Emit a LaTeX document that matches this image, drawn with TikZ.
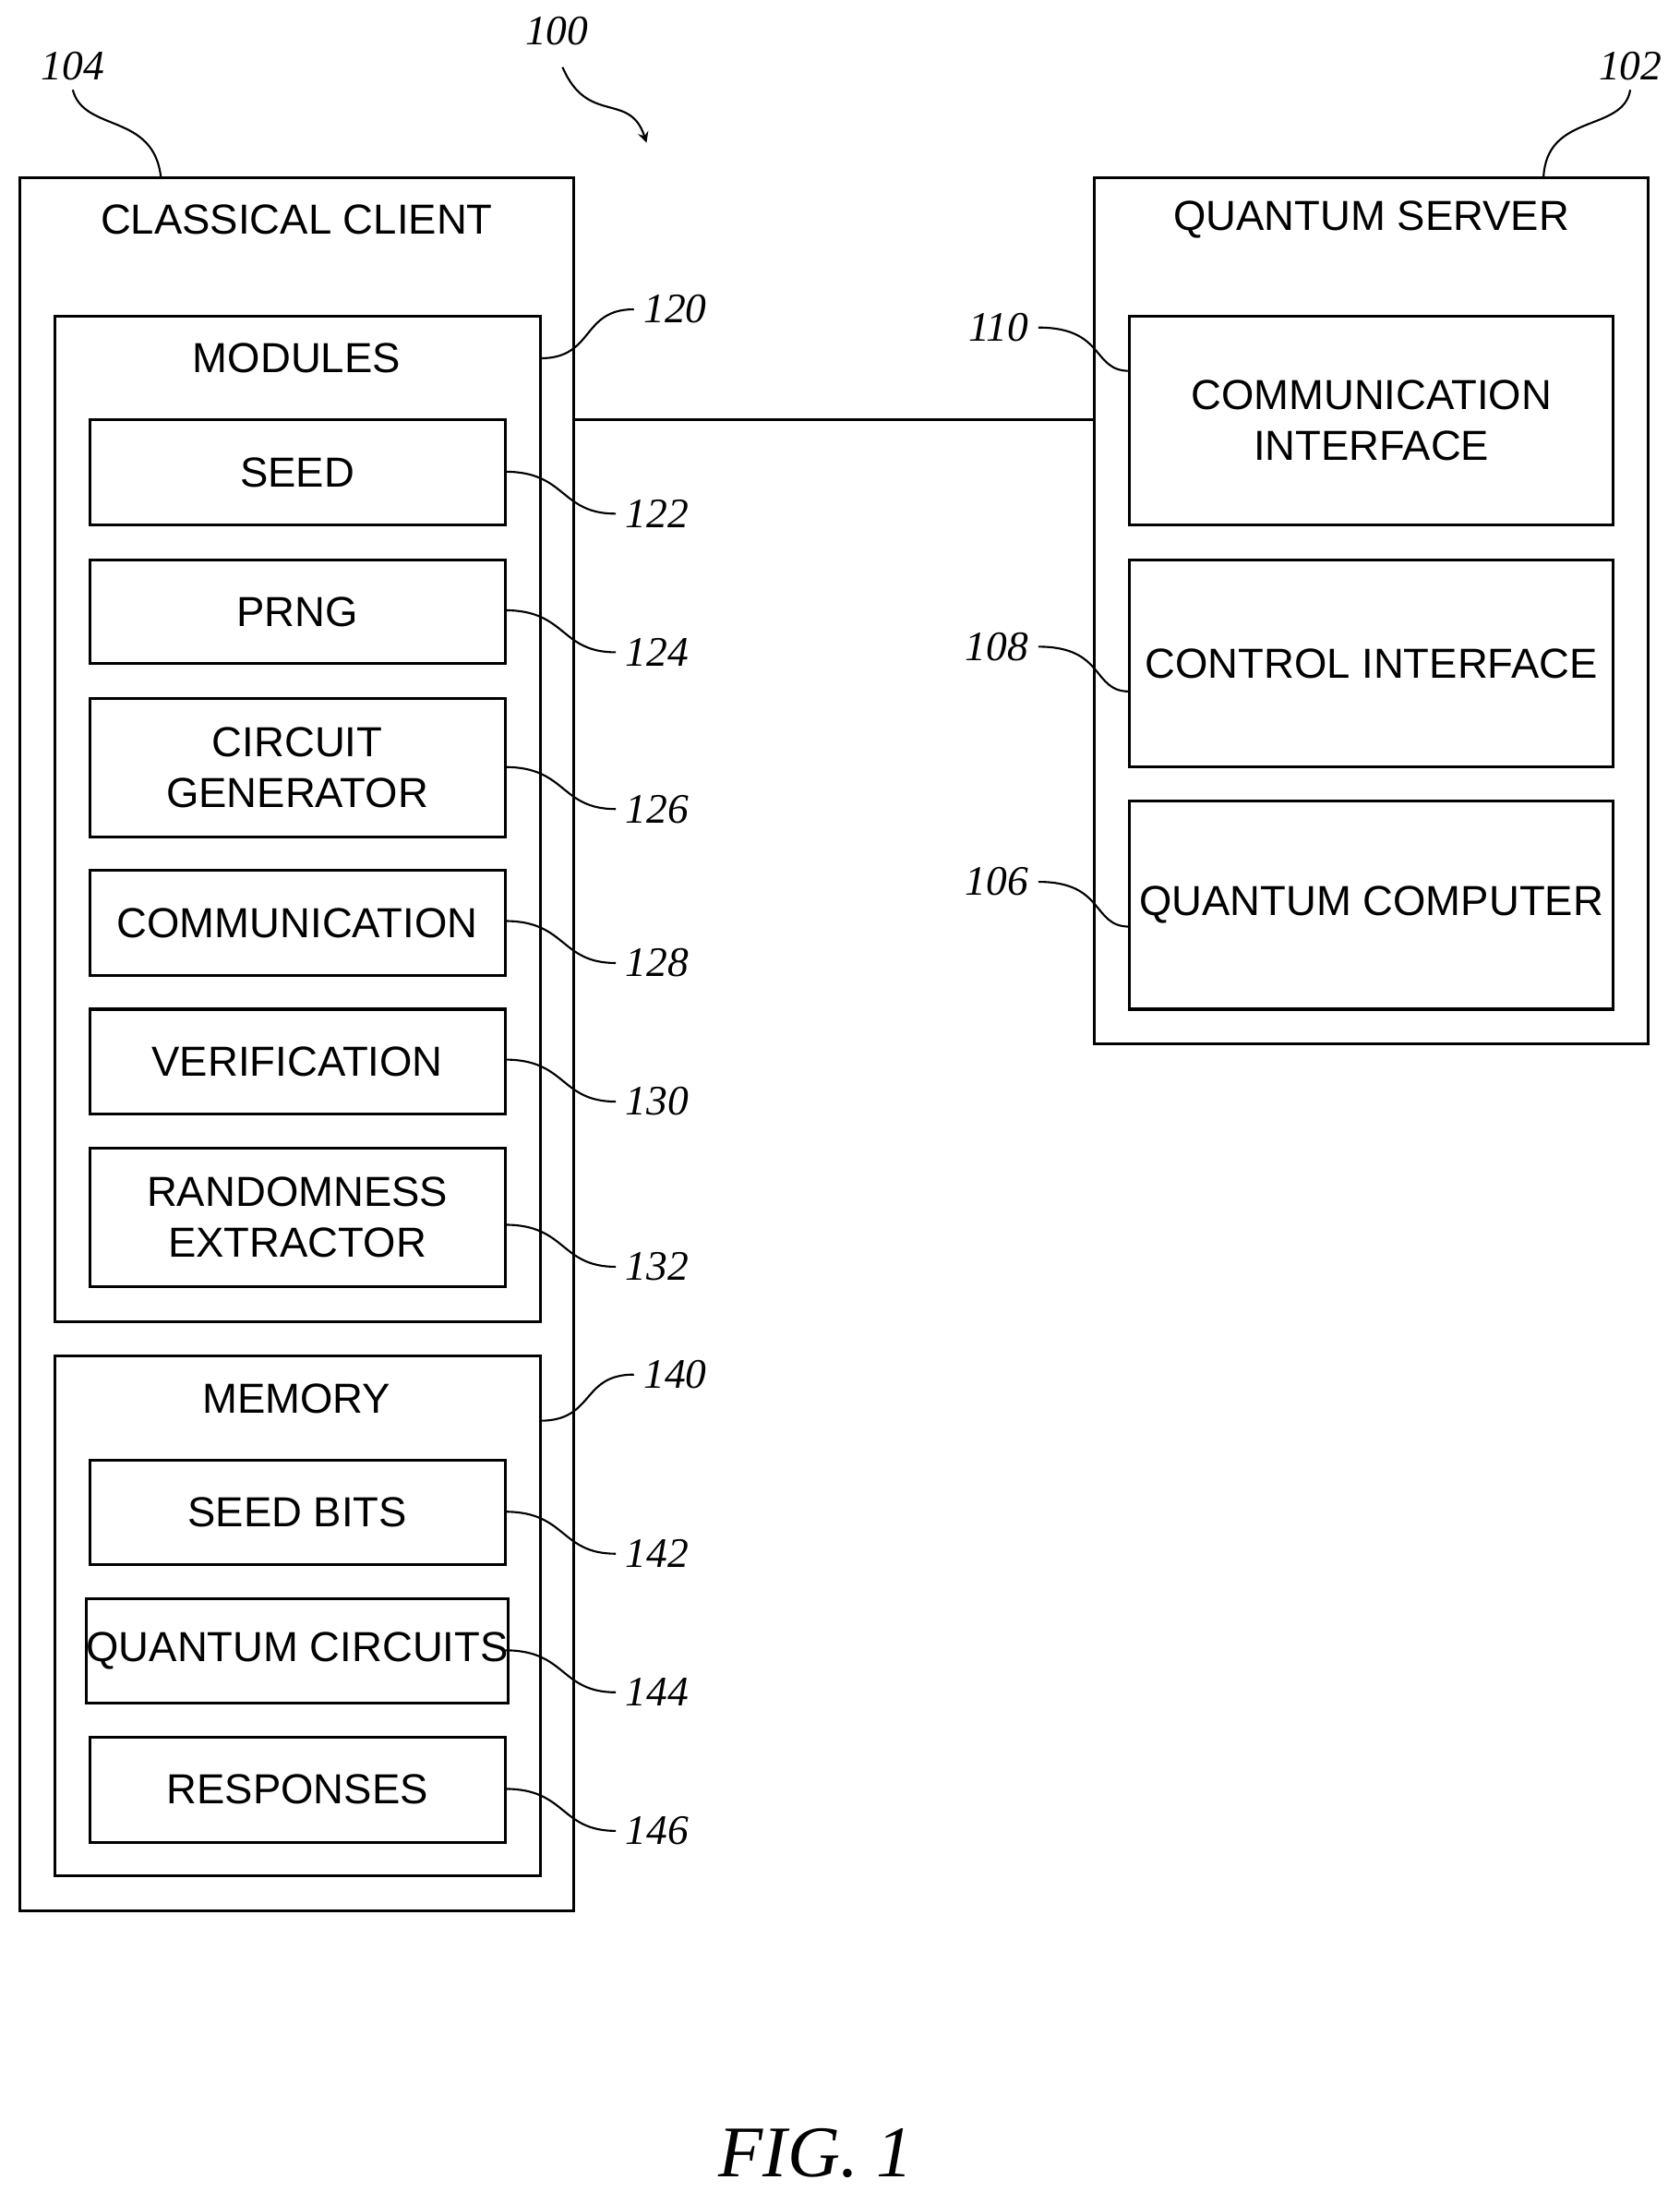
\documentclass[tikz,border=0pt]{standalone}
\usepackage{fontspec}
\setmainfont{Liberation Sans}
\newfontfamily\reffont{Liberation Serif}
\usetikzlibrary{positioning,calc}

\begin{document}
\begin{tikzpicture}
    [x=0.5pt,y=-0.5pt,
     box/.style={draw=black, line width=1pt, inner sep=0pt, align=center, font=\fontsize{15}{18}\selectfont},
     ttl/.style={font=\fontsize{15}{18}\selectfont},
     num/.style={font=\reffont\itshape\fontsize{15}{18}\selectfont},
     lead/.style={line width=0.7pt}]
    \useasboundingbox (0,0) rectangle (1200,1566);

    % classical client
    \node[box, minimum width=198pt, minimum height=619pt] (client) at (212,746) {};
    \node[ttl] (clientT) at (212,157) {CLASSICAL CLIENT};
    \node[box, minimum width=173.5pt, minimum height=359pt] (mods) at (212.5,585) {};
    \node[ttl] (modsT) at (212,256) {MODULES};
    \node[box, minimum width=148.5pt, minimum height=37.5pt] (seed) at (212.5,337.5) {SEED};
    \node[box, minimum width=148.5pt, minimum height=37pt] (prng) at (212.5,437) {PRNG};
    \node[box, minimum width=148.5pt, minimum height=49.5pt] (circ) at (212.5,548.5) {CIRCUIT\\GENERATOR};
    \node[box, minimum width=148.5pt, minimum height=37.5pt] (comm) at (212.5,659.5) {COMMUNICATION};
    \node[box, minimum width=148.5pt, minimum height=37.5pt] (verif) at (212.5,758.5) {VERIFICATION};
    \node[box, minimum width=148.5pt, minimum height=49.5pt] (extr) at (212.5,869.5) {RANDOMNESS\\EXTRACTOR};
    \node[box, minimum width=173.5pt, minimum height=185.5pt] (mem) at (212.5,1154.5) {};
    \node[ttl] (memT) at (212,999) {MEMORY};
    \node[box, minimum width=148.5pt, minimum height=37.5pt] (sbits) at (212.5,1080.5) {SEED BITS};
    \node[box, minimum width=148.5pt, minimum height=37.5pt] (qcirc) at (212.5,1179.5) {QUANTUM CIRCUITS};
    \node[box, minimum width=148.5pt, minimum height=37.5pt] (resp) at (212.5,1278.5) {RESPONSES};

    % quantum server
    \node[box, minimum width=198pt, minimum height=309.5pt] (server) at (980,436.5) {};
    \node[ttl] (serverT) at (980,157) {QUANTUM SERVER};
    \node[box, minimum width=173pt, minimum height=74.5pt] (cif) at (980,300.5) {COMMUNICATION\\INTERFACE};
    \node[box, minimum width=173pt, minimum height=74pt] (ctl) at (980,474) {CONTROL INTERFACE};
    \node[box, minimum width=173pt, minimum height=74.5pt] (qc) at (980,646.5) {QUANTUM COMPUTER};

    \draw[line width=1pt] (client.east |- 0,300) -- (server.west |- 0,300);

    % reference numerals
    \node[num] (n100) at (398,22) {100};
    \draw[lead,-stealth] (402,48) .. controls (420,90) and (450,65) .. (462,102);
    \node[num] (n104) at (52,47) {104};
    \draw[lead] (n104.south) .. controls (60,95) and (110,80) .. (115,127);
    \node[num] (n102) at (1165,47) {102};
    \draw[lead] (n102.south) .. controls (1160,95) and (1105,80) .. (1103,127);

    \foreach \nm/\yb/\yl in {120/256/221, 140/1015/982} {
      \node[num,anchor=west] (n\nm) at (453,\yl) {\nm};
      \draw[lead] (386,\yb) .. controls (425,\yb) and (415,\yl) .. (n\nm.west);
    }
    \foreach \nm/\yb in {122/337, 124/436, 126/548, 128/658, 130/757, 132/875, 142/1080, 144/1179, 146/1278} {
      \node[num,anchor=west] (n\nm) at (440,\yb+30) {\nm};
      \draw[lead] (361,\yb) .. controls (405,\yb) and (400,\yb+30) .. (n\nm.west);
    }
    \foreach \nm/\yb/\yl in {110/265/234, 108/494/462, 106/662/630} {
      \node[num,anchor=east] (n\nm) at (742,\yl) {\nm};
      \draw[lead] (n\nm.east) .. controls (790,\yl) and (780,\yb) .. (807,\yb);
    }

    \node[font=\reffont\itshape\fontsize{26}{30}\selectfont] (fig) at (583,1538) {FIG. 1};
\end{tikzpicture}
\end{document}
